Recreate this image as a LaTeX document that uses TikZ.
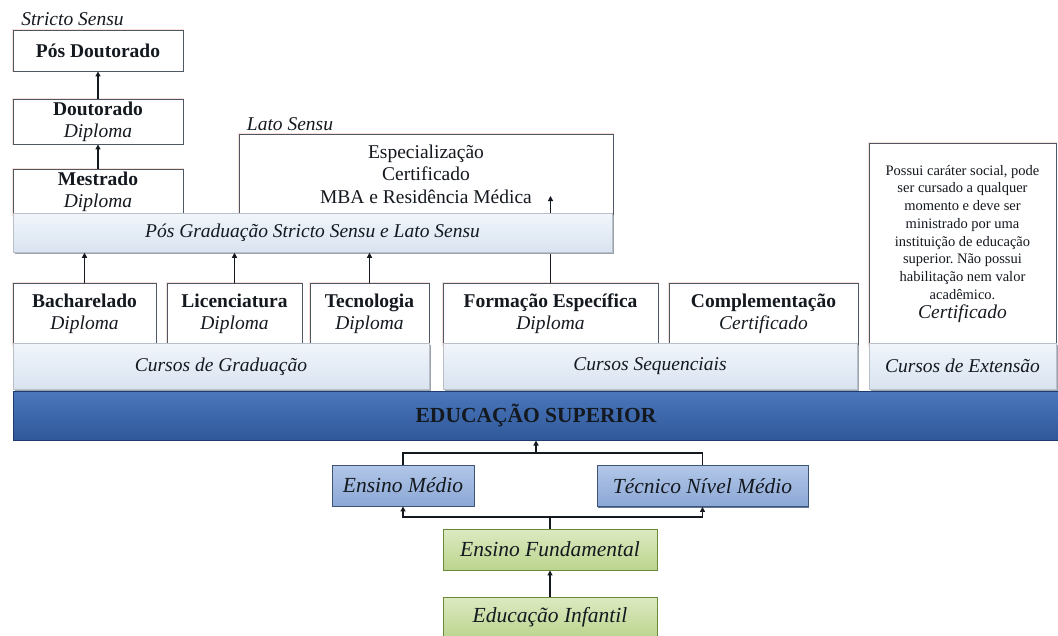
\documentclass[tikz,border=0pt]{standalone}
\usepackage{fontspec}
\setmainfont{Liberation Serif}
\usetikzlibrary{arrows.meta}
\definecolor{bord}{HTML}{4E5864}
\definecolor{halo}{HTML}{F8E0D9}
\definecolor{barT}{HTML}{F1F5FB}
\definecolor{barB}{HTML}{D9E3F0}
\definecolor{barD}{HTML}{9AA3AF}
\definecolor{eduT}{HTML}{4C77BC}
\definecolor{eduB}{HTML}{2E5899}
\definecolor{eduD}{HTML}{1E3B6E}
\definecolor{bluT}{HTML}{B2C7E8}
\definecolor{bluB}{HTML}{8BA7D5}
\definecolor{bluD}{HTML}{3E5478}
\definecolor{grnT}{HTML}{DDEAC2}
\definecolor{grnB}{HTML}{BBD48D}
\definecolor{grnD}{HTML}{6A8A3A}
\definecolor{ink}{HTML}{14191F}
\newcommand\szMain{\fontsize{19.5}{22}\selectfont}
\newcommand\szBig{\fontsize{21.5}{24}\selectfont}
\newcommand\szSmall{\fontsize{14.5}{17.7}\selectfont}
\tikzset{
  wbox/.style={draw=bord, line width=0.9pt, fill=white,
    preaction={draw=halo, line width=2.8pt},
    inner sep=0pt, text=ink, align=center, font=\szMain},
  bar/.style={draw=barD!70, line width=0.5pt, top color=barT, bottom color=barB,
    preaction={fill=barD, transform canvas={xshift=1.6pt,yshift=-1.6pt}},
    inner sep=0pt, text=ink, font=\szMain\itshape},
  edubar/.style={draw=eduD, line width=1pt, top color=eduT, bottom color=eduB,
    inner sep=0pt, text=ink, font=\szBig\bfseries},
  bluebox/.style={draw=bluD, line width=0.9pt, top color=bluT, bottom color=bluB,
    preaction={fill=bluD!80, transform canvas={xshift=1.4pt,yshift=-1.4pt}},
    inner sep=0pt, text=ink, font=\szBig\itshape},
  greenbox/.style={draw=grnD, line width=0.9pt, top color=grnT, bottom color=grnB,
    preaction={fill=grnD!80, transform canvas={xshift=1.4pt,yshift=-1.4pt}},
    inner sep=0pt, text=ink, font=\szBig\itshape},
  lbl/.style={inner sep=0pt, text=ink, font=\szMain\itshape},
  conn/.style={draw=ink, line width=1.2pt},
  arr/.style={conn, -{Triangle[length=5pt,width=5pt]}},
}
\begin{document}
\frenchspacing
\begin{tikzpicture}[x=1pt,y=-1pt]
\useasboundingbox (0,0) rectangle (1058,635);
\fill[white] (0,0) rectangle (1058,635);

% labels
\node[lbl] (strictoLbl) at (72.5,19) {Stricto Sensu};
\node[lbl] (latoLbl) at (290,124) {Lato Sensu};

% stricto sensu column
\node[wbox, minimum width=170pt, minimum height=41pt] (posdout) at (98,50.5) {\textbf{Pós Doutorado}};
\node[wbox, minimum width=170pt, minimum height=45pt] (dout) at (98,121.5) {\textbf{Doutorado}\\\textit{Diploma}};
\node[wbox, minimum width=170pt, minimum height=46pt] (mest) at (98,192) {\textbf{Mestrado}\\\textit{Diploma}};

% lato sensu box
\node[wbox, minimum width=374pt, minimum height=80pt, font=\fontsize{19.5}{22.5}\selectfont] (lato) at (426,174) {Especialização\\Certificado\\MBA e Residência Médica};

% extension box
\node[wbox, minimum width=187pt, minimum height=202pt] (ext) at (962.5,244) {};
\node[inner sep=0pt, align=center, text=ink, font=\szSmall, anchor=north] (extText) at (962.5,165)
  {Possui caráter social, pode\\ser cursado a qualquer\\momento e deve ser\\ministrado por uma\\instituição de educação\\superior. Não possui\\habilitação nem valor\\acadêmico.\\[2pt]{\szMain\itshape Certificado}};

% graduation & sequential boxes
\node[wbox, minimum width=143pt, minimum height=62pt] (bach) at (84.5,314) {\textbf{Bacharelado}\\\textit{Diploma}};
\node[wbox, minimum width=135pt, minimum height=62pt] (lic) at (234.5,314) {\textbf{Licenciatura}\\\textit{Diploma}};
\node[wbox, minimum width=119pt, minimum height=62pt] (tec) at (369.5,314) {\textbf{Tecnologia}\\\textit{Diploma}};
\node[wbox, minimum width=215pt, minimum height=62pt] (form) at (550.5,314) {\textbf{Formação Específica}\\\textit{Diploma}};
\node[wbox, minimum width=189pt, minimum height=62pt] (compl) at (763.5,314) {\textbf{Complementação}\\\textit{Certificado}};

% arrows in the upper part
\draw[arr] (dout.north) -- (posdout.south);
\draw[arr] (mest.north) -- (dout.south);
\coordinate (latoTip) at (550.5,196);
\draw[arr] (form.north) -- (latoTip);

% pos graduacao bar
\node[bar, minimum width=599pt, minimum height=39pt] (posgrad) at (312.5,233) {Pós Graduação Stricto Sensu e Lato Sensu};
\draw[arr] (bach.north) -- (bach.north |- posgrad.south);
\draw[arr] (lic.north) -- (lic.north |- posgrad.south);
\draw[arr] (tec.north) -- (tec.north |- posgrad.south);

% course bars
\node[bar, minimum width=416pt, minimum height=46pt] (cgrad) at (221,366.5) {Cursos de Graduação};
\node[bar, minimum width=414pt, minimum height=46pt] (cseq) at (650,366.5) {Cursos Sequenciais};
\node[bar, minimum width=187pt, minimum height=46pt] (cext) at (962.5,366) {Cursos de Extensão};

% higher education bar
\node[edubar, minimum width=1046pt, minimum height=49pt] (edu) at (536,415.5) {EDUCAÇÃO SUPERIOR};

% lower boxes
\node[bluebox, minimum width=142pt, minimum height=41pt] (em) at (403,485.5) {Ensino Médio};
\node[bluebox, minimum width=211pt, minimum height=41pt] (tnm) at (702.5,486) {Técnico Nível Médio};
\node[greenbox, minimum width=214pt, minimum height=41pt] (ef) at (550,549.5) {Ensino Fundamental};
\node[greenbox, minimum width=214pt, minimum height=41pt] (ei) at (550,617.5) {Educação Infantil};

% lower connectors
\coordinate (jTop) at (536,453);
\draw[conn] (em.north) -- (em.north |- jTop) -- (tnm.north |- jTop) -- (tnm.north);
\draw[arr] (jTop) -- (edu.south);
\coordinate (jBot) at (550,517);
\draw[conn] (ef.north) -- (jBot);
\draw[arr] (jBot) -| (em.south);
\draw[arr] (jBot) -| (tnm.south);
\draw[arr] (ei.north) -- (ef.south);
\end{tikzpicture}
\end{document}
